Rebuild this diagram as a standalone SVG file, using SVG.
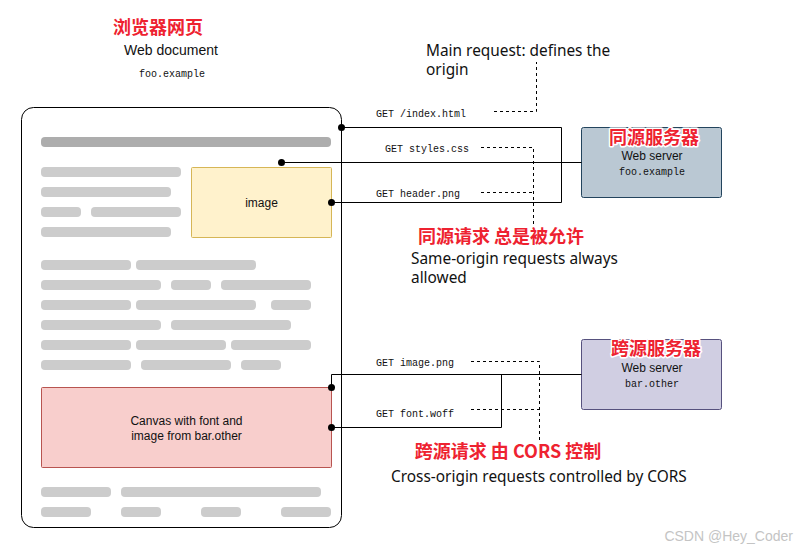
<svg xmlns="http://www.w3.org/2000/svg" width="797" height="550" viewBox="0 0 797 550">
<style>
.red{font-family:"Noto Sans CJK SC","Noto Sans",sans-serif;font-weight:bold;font-size:18px;fill:#ee2230;stroke:#fff;stroke-width:3;paint-order:stroke;stroke-linejoin:round;text-anchor:middle}
.ar{font-family:"Liberation Sans",Arial,sans-serif;font-size:12px;fill:#111;text-anchor:middle}
.mono{font-family:"Liberation Mono","Courier New",monospace;font-size:10px;fill:#111}
.note{font-family:"Noto Sans","Open Sans",sans-serif;font-size:15.4px;fill:#111}
.bar{fill:#cccccc}
.ln{fill:none;stroke:#000;stroke-width:1}
.dash{fill:none;stroke:#000;stroke-width:1;stroke-dasharray:3 3}
.dot{fill:#000}
</style>
<rect width="797" height="550" fill="#fff"/>

<g id="doc-title">
<text class="red" x="158" y="34">浏览器网页</text>
<text class="ar" x="171" y="55" style="font-size:14px">Web document</text>
<text class="mono" x="172" y="77" text-anchor="middle">foo.example</text>
</g>

<g id="document">
<rect x="21.5" y="107.5" width="320" height="420" rx="12" fill="#fff" stroke="#000"/>
<rect x="41" y="137" width="290" height="10" rx="4" fill="#adadad"/>
<rect class="bar" x="41" y="167" width="140" height="10" rx="4"/>
<rect class="bar" x="41" y="187" width="130" height="10" rx="4"/>
<rect class="bar" x="41" y="207" width="40" height="10" rx="4"/>
<rect class="bar" x="91" y="207" width="90" height="10" rx="4"/>
<rect class="bar" x="41" y="227" width="130" height="10" rx="4"/>
<rect class="bar" x="41" y="260" width="90" height="10" rx="4"/>
<rect class="bar" x="136" y="260" width="120" height="10" rx="4"/>
<rect class="bar" x="41" y="280" width="120" height="10" rx="4"/>
<rect class="bar" x="171" y="280" width="40" height="10" rx="4"/>
<rect class="bar" x="221" y="280" width="90" height="10" rx="4"/>
<rect class="bar" x="41" y="300" width="90" height="10" rx="4"/>
<rect class="bar" x="136" y="300" width="120" height="10" rx="4"/>
<rect class="bar" x="271" y="300" width="40" height="10" rx="4"/>
<rect class="bar" x="41" y="320" width="120" height="10" rx="4"/>
<rect class="bar" x="171" y="320" width="120" height="10" rx="4"/>
<rect class="bar" x="41" y="340" width="90" height="10" rx="4"/>
<rect class="bar" x="136" y="340" width="90" height="10" rx="4"/>
<rect class="bar" x="231" y="340" width="80" height="10" rx="4"/>
<rect class="bar" x="41" y="360" width="90" height="10" rx="4"/>
<rect class="bar" x="141" y="360" width="90" height="10" rx="4"/>
<rect class="bar" x="241" y="360" width="40" height="10" rx="4"/>
<rect class="bar" x="41" y="487" width="70" height="10" rx="4"/>
<rect class="bar" x="121" y="487" width="200" height="10" rx="4"/>
<rect class="bar" x="41" y="507" width="50" height="10" rx="4"/>
<rect class="bar" x="121" y="507" width="40" height="10" rx="4"/>
<rect class="bar" x="201" y="507" width="40" height="10" rx="4"/>
<rect class="bar" x="281" y="507" width="50" height="10" rx="4"/>
</g>

<g id="image">
<rect x="191.5" y="167.5" width="140" height="70" rx="1" fill="#fff2cc" stroke="#d6b656"/>
<text class="ar" x="261.5" y="207">image</text>
</g>

<g id="canvas">
<rect x="41.5" y="387.5" width="290" height="80" rx="1" fill="#f8cecc" stroke="#b85450"/>
<text class="ar" x="186.5" y="425">Canvas with font and</text>
<text class="ar" x="186.5" y="440">image from bar.other</text>
</g>

<g id="same-origin-server">
<rect x="581.5" y="127.5" width="140" height="70" rx="2" fill="#bac8d3" stroke="#23445d"/>
<text class="red" x="654" y="144">同源服务器</text>
<text class="ar" x="652" y="160">Web server</text>
<text class="mono" x="652" y="175" text-anchor="middle">foo.example</text>
</g>

<g id="cross-origin-server">
<rect x="581.5" y="339.5" width="140" height="70" rx="2" fill="#d0cee2" stroke="#56517e"/>
<text class="red" x="656" y="355">跨源服务器</text>
<text class="ar" x="652" y="372">Web server</text>
<text class="mono" x="652" y="387" text-anchor="middle">bar.other</text>
</g>

<g id="connectors">
<path class="ln" d="M341.5 127.5 H561.5 V202.5 H331.5"/>
<path class="ln" d="M281.5 162.5 H581.5"/>
<path class="ln" d="M331.5 387.5 V374.5 H581.5"/>
<path class="ln" d="M501.5 374.5 V427.5 H331.5"/>
<circle class="dot" cx="341.5" cy="127.5" r="3.5"/>
<circle class="dot" cx="281.5" cy="162.5" r="3.5"/>
<circle class="dot" cx="331.5" cy="202.5" r="3.5"/>
<circle class="dot" cx="331.5" cy="387.5" r="3.5"/>
<circle class="dot" cx="331.5" cy="427.5" r="3.5"/>
<text class="mono" x="376" y="117">GET /index.html</text>
<text class="mono" x="385" y="152">GET styles.css</text>
<text class="mono" x="376" y="197">GET header.png</text>
<text class="mono" x="376" y="366">GET image.png</text>
<text class="mono" x="376" y="417">GET font.woff</text>
</g>

<g id="annotations">
<path class="dash" d="M494 111.5 H536.5 V62"/>
<path class="dash" d="M481 147.5 H533.5 V229"/>
<path class="dash" d="M481 192.5 H533.5"/>
<path class="dash" d="M471 361.5 H539.5 V448"/>
<path class="dash" d="M471 409.5 H539.5"/>
<text class="note" x="426" y="56">Main request: defines the</text>
<text class="note" x="426" y="75">origin</text>
<text class="red" x="501" y="243">同源请求 总是被允许</text>
<text class="note" x="411" y="264">Same-origin requests always</text>
<text class="note" x="411" y="283">allowed</text>
<text class="red" x="508" y="458">跨源请求 由 CORS 控制</text>
<text class="note" x="391" y="482">Cross-origin requests controlled by CORS</text>
</g>

<text x="793" y="541" text-anchor="end" style="font-family:'Liberation Sans',Arial,sans-serif;font-size:14px;fill:#c4c4c4">CSDN @Hey_Coder</text>
</svg>
